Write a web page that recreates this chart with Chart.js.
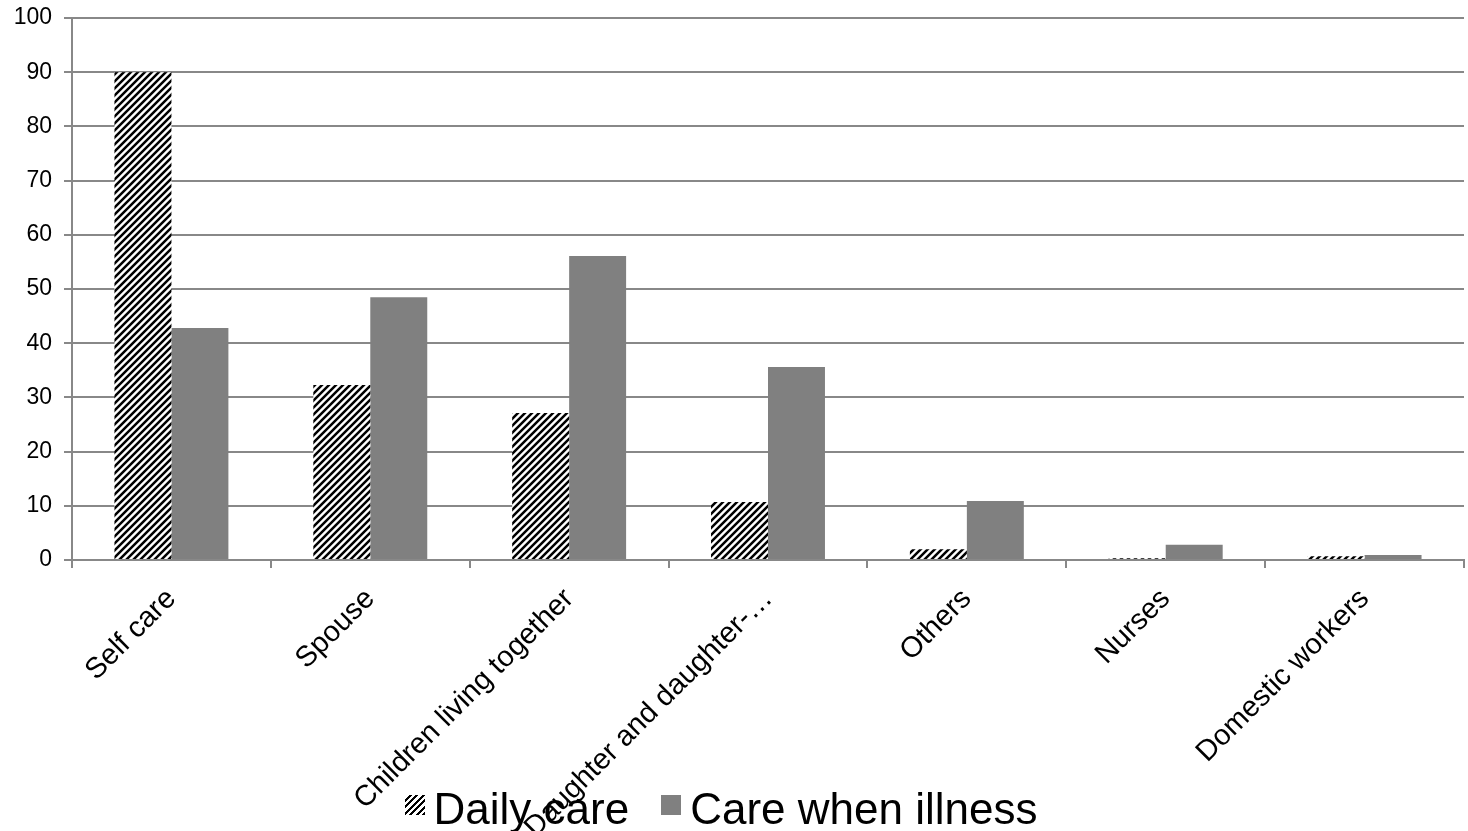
<!DOCTYPE html>
<html>
<head>
<meta charset="utf-8">
<script src="https://cdn.jsdelivr.net/npm/chart.js@4.4.0/dist/chart.umd.min.js"></script>
<style>
  html, body { margin: 0; padding: 0; background: #fff; }
  .wrap { position: relative; width: 1468px; height: 831px; }
  .legend {
    position: absolute; top: 787px; left: 0; width: 1442px;
    text-align: center; white-space: nowrap;
    font-family: 'Liberation Sans', Arial, sans-serif; font-size: 44px; line-height: 44px; color: #000;
  }
  .legend__box { display: inline-block; width: 20px; height: 20px; vertical-align: 9px; margin-right: 9px; }
  .legend__box--hatch { background: repeating-linear-gradient(-45deg, #000 0 2.2px, #fff 2.2px 4.6px); }
  .legend__box--gray { background: #808080; margin-left: 32px; }
</style>
</head>
<body>
<div class="wrap">
  <canvas id="myChart" width="1468" height="831"></canvas>
  <div class="legend">
    <span class="legend__box legend__box--hatch"></span><span>Daily care</span><span class="legend__box legend__box--gray"></span><span>Care when illness</span>
  </div>
</div>
<script>
const categories = ['Self care', 'Spouse', 'Children living together', 'Daughter and daughter-…', 'Others', 'Nurses', 'Domestic workers'];
const dailyCare = [90, 32.3, 27.1, 10.7, 2.0, 0.3, 0.7];
const careWhenIllness = [42.8, 48.5, 56.1, 35.6, 10.9, 2.8, 0.9];
const yTicks = [0, 10, 20, 30, 40, 50, 60, 70, 80, 90, 100];

const FONT = "'Liberation Sans', Arial, sans-serif";

// diagonal black/white stripes for the daily care bars
function makeHatch() {
  const n = 7;
  const tile = document.createElement('canvas');
  tile.width = n;
  tile.height = n;
  const c = tile.getContext('2d');
  c.fillStyle = '#fff';
  c.fillRect(0, 0, n, n);
  c.strokeStyle = '#000';
  c.lineWidth = 2.5;
  c.beginPath();
  c.moveTo(-2, n + 2); c.lineTo(n + 2, -2);
  c.moveTo(-2, 2); c.lineTo(2, -2);
  c.moveTo(n - 2, n + 2); c.lineTo(n + 2, n - 2);
  c.stroke();
  return c.createPattern(tile, 'repeat');
}

const ctx = document.getElementById('myChart').getContext('2d');
const hatch = makeHatch();

const chart = new Chart(ctx, {
  type: 'bar',
  data: {
    labels: categories,
    datasets: [{
      label: 'Daily care',
      data: dailyCare,
      backgroundColor: hatch,
      borderWidth: 0,
    }, {
      label: 'Care when illness',
      data: careWhenIllness,
      backgroundColor: '#808080',
      borderWidth: 0,
    }],
  },
  options: {
    responsive: false,
    animation: false,
    layout: { padding: { top: 18, right: 4, left: 0, bottom: 0 } },
    datasets: { bar: { categoryPercentage: 0.573, barPercentage: 1.0 } },
    plugins: {
      tooltip: { enabled: false },
      legend: { display: false },
    },
    scales: {
      x: {
        grid: { display: true, drawOnChartArea: false, drawTicks: true, tickLength: 8, color: '#888', lineWidth: 2 },
        border: { color: '#888', width: 2 },
        ticks: {
          color: '#000',
          font: { family: FONT, size: 29 },
          minRotation: 45,
          maxRotation: 45,
          autoSkip: false,
          padding: 14,
        },
        afterFit(scale) { scale.height = 271; },
      },
      y: {
        min: 0,
        max: 100,
        afterBuildTicks(scale) { scale.ticks = yTicks.map((v) => ({ value: v })); },
        grid: { color: '#888', lineWidth: 2, tickLength: 8 },
        border: { color: '#888', width: 2 },
        ticks: {
          color: '#000',
          font: { family: FONT, size: 23 },
          padding: 12,
        },
        afterFit(scale) {
          scale.width = 72;
          scale.paddingTop = 0;
          scale.paddingBottom = 0;
        },
      },
    },
  },
});
</script>
</body>
</html>
